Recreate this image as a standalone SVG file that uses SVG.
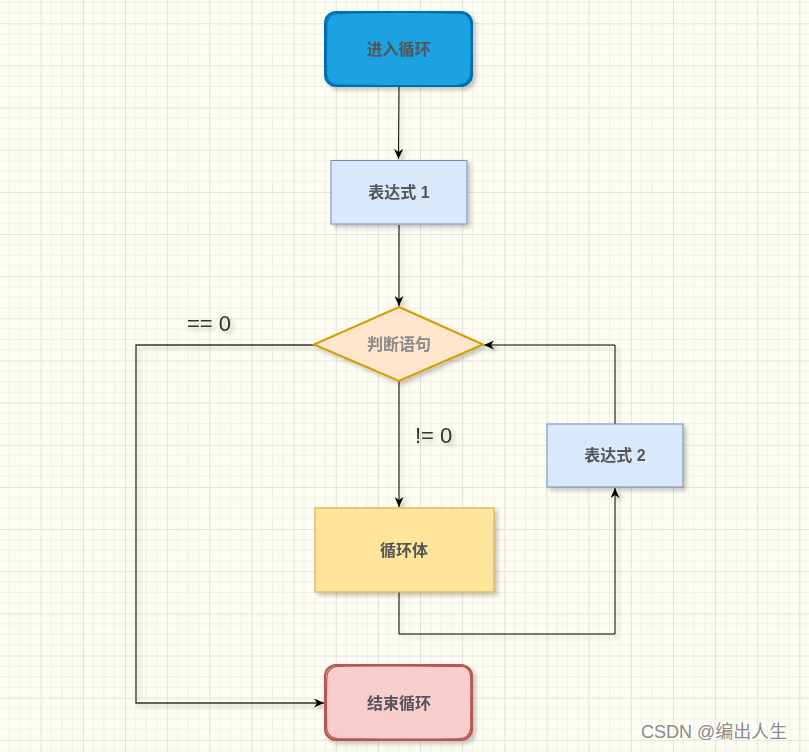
<svg xmlns="http://www.w3.org/2000/svg" width="809" height="752" viewBox="0 0 809 752">
<defs>
<pattern id="grid" x="-1.45" y="23.3" width="42.15" height="42.15" patternUnits="userSpaceOnUse">
<path d="M10.54,0 V42.15 M21.08,0 V42.15 M31.61,0 V42.15 M0,10.54 H42.15 M0,21.08 H42.15 M0,31.61 H42.15" stroke="#efefe4" stroke-width="1" fill="none"/>
<path d="M0.5,0 V42.15 M0,0.5 H42.15" stroke="#e2e2da" stroke-width="1" fill="none"/>
</pattern>
<filter id="sh" x="-20%" y="-20%" width="140%" height="140%">
<feDropShadow dx="3" dy="3" stdDeviation="2" flood-color="#000" flood-opacity="0.22"/>
</filter>
<marker id="arr" markerWidth="10" markerHeight="9" refX="10" refY="4.5" orient="auto" markerUnits="userSpaceOnUse">
<path d="M0,0 L10,4.5 L0,9 L3,4.5 z" fill="#000"/>
</marker>
</defs>
<style>
.lbl{font-family:"Liberation Sans","Noto Sans CJK SC",sans-serif;font-size:16px;font-weight:bold;fill:#555;text-anchor:middle;dominant-baseline:central}
.edge{fill:none;stroke:#000;stroke-width:1}
.etxt{font-family:"Liberation Sans","Noto Sans CJK SC",sans-serif;font-size:22px;fill:#333}
</style>
<rect width="809" height="752" fill="#fdfdf3"/>
<rect width="809" height="752" fill="url(#grid)"/>

<g id="connectors" filter="url(#sh)">
<path class="edge" d="M399,87 L398.5,159" marker-end="url(#arr)"/>
<path class="edge" d="M399,225 L399,306" marker-end="url(#arr)"/>
<path class="edge" d="M399,381 L399,507" marker-end="url(#arr)"/>
<path class="edge" d="M399,592 L399,634 L615,634 L615,488" marker-end="url(#arr)"/>
<path class="edge" d="M615,424 L615,345 L484,345" marker-end="url(#arr)"/>
<path class="edge" d="M314,345 L136,345 L136,703 L324,703" style="stroke:#333;stroke-width:1.3" marker-end="url(#arr)"/>
<text class="etxt" x="187" y="331">== 0</text>
<text class="etxt" x="415" y="443">!= 0</text>
</g>

<g id="start" filter="url(#sh)">
<rect x="325" y="12" width="147" height="74" rx="11" fill="#1ba1e2" stroke="#006eaf" stroke-width="2"/>
<path d="M337,13.5 C380,12 430,12.5 461,13.2 C468,14 471,20 471,27 C471.5,50 471.3,64 470.5,76 C469,83 464,85 458,85.3 C420,86 380,85.5 338,85 C330,84.5 326,79 326.5,72 C326,55 326.5,40 326.8,25 C327,18 331,14 337,13.5" fill="none" stroke="#006eaf" stroke-width="1.2"/>
<text class="lbl" x="398.5" y="49">进入循环</text>
</g>

<g id="expr1" filter="url(#sh)">
<rect x="331" y="160.5" width="136" height="63.5" fill="#dae8fc" stroke="#6c8ebf" stroke-width="1"/>
<text class="lbl" x="399" y="192">表达式 1</text>
</g>

<g id="cond" filter="url(#sh)">
<polygon points="399,307 483,344.5 399,381 314,344.5" fill="#ffe6cc" stroke="#d79b00" stroke-width="2"/>
<text class="lbl" x="399" y="344" style="fill:#8a8a8a">判断语句</text>
</g>

<g id="body" filter="url(#sh)">
<rect x="315" y="508" width="179" height="84" fill="#ffe599" stroke="#d6b656" stroke-width="1.3"/>
<text class="lbl" x="404" y="550">循环体</text>
</g>

<g id="expr2" filter="url(#sh)">
<rect x="547" y="424" width="136" height="63" fill="#dae8fc" stroke="#6c8ebf" stroke-width="1"/>
<text class="lbl" x="615" y="455.5">表达式 2</text>
</g>

<g id="end" filter="url(#sh)">
<rect x="325" y="665" width="147" height="75" rx="11" fill="#f8cecc" stroke="#b85450" stroke-width="2"/>
<path d="M337,666.3 C380,665.5 430,666 461,666.5 C468,667 471,672 470.8,680 C471,700 470.5,715 470.8,728 C470,736 465,738.6 458,738.8 C420,739.3 380,739 338,738.5 C330,738 326.5,733 326.7,726 C326.3,710 326.5,690 326.8,678 C327,671 331,667 337,666.3" fill="none" stroke="#b85450" stroke-width="1.2"/>
<text class="lbl" x="399" y="703">结束循环</text>
</g>

<text x="641" y="738" style="font-family:'Liberation Sans','Noto Sans CJK SC',sans-serif;font-size:18px;fill:#8a8a8a;stroke:#fff;stroke-width:2;paint-order:stroke">CSDN @编出人生</text>
</svg>
